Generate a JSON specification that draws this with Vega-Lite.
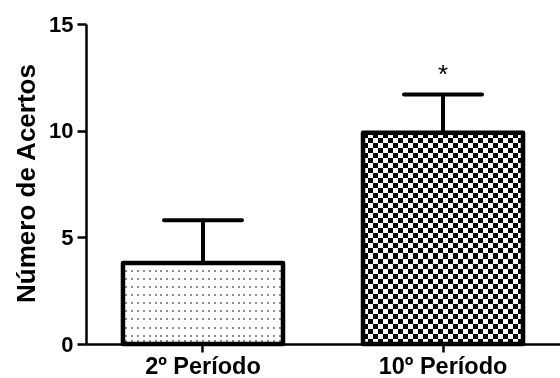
{
  "$schema": "https://vega.github.io/schema/vega-lite/v6.json",
  "autosize": {"type": "none"},
  "padding": {"left": 86, "top": 24, "right": 0, "bottom": 34},
  "width": 474,
  "height": 320,
  "background": "white",
  "config": {
    "font": "Liberation Sans",
    "view": {"stroke": null},
    "axis": {
      "domainColor": "black", "domainWidth": 2.5,
      "tickColor": "black", "tickWidth": 2.5,
      "labelColor": "black", "labelFont": "Liberation Sans", "labelFontWeight": "bold",
      "titleColor": "black", "titleFont": "Liberation Sans", "titleFontWeight": "bold",
      "grid": false
    }
  },
  "data": {
    "values": [
      {"grupo": "2º Período", "media": 3.8, "sup": 5.8, "sig": ""},
      {"grupo": "10º Período", "media": 9.9, "sup": 11.7, "sig": "*"}
    ]
  },
  "encoding": {
    "x": {
      "field": "grupo", "type": "nominal", "sort": ["2º Período", "10º Período"],
      "scale": {"paddingInner": 0.3333, "paddingOuter": 0.154},
      "axis": {"title": null, "labelAngle": 0, "tickSize": 8, "labelPadding": 2, "labelFontSize": 23.5}
    }
  },
  "layer": [
    {
      "transform": [{"filter": "datum.grupo === '2º Período'"}],
      "mark": {"type": "bar", "fill": {"gradient": "linear", "x1": 0, "y1": 0, "x2": 1, "y2": 0, "stops": [
        {"offset": 0.0122, "color": "white"}, {"offset": 0.0122, "color": "#8c8c8c"}, {"offset": 0.0248, "color": "#8c8c8c"}, {"offset": 0.0248, "color": "white"},
        {"offset": 0.0493, "color": "white"}, {"offset": 0.0493, "color": "#8c8c8c"}, {"offset": 0.0619, "color": "#8c8c8c"}, {"offset": 0.0619, "color": "white"},
        {"offset": 0.0863, "color": "white"}, {"offset": 0.0863, "color": "#8c8c8c"}, {"offset": 0.0989, "color": "#8c8c8c"}, {"offset": 0.0989, "color": "white"},
        {"offset": 0.1233, "color": "white"}, {"offset": 0.1233, "color": "#8c8c8c"}, {"offset": 0.1359, "color": "#8c8c8c"}, {"offset": 0.1359, "color": "white"},
        {"offset": 0.1604, "color": "white"}, {"offset": 0.1604, "color": "#8c8c8c"}, {"offset": 0.1730, "color": "#8c8c8c"}, {"offset": 0.1730, "color": "white"},
        {"offset": 0.1974, "color": "white"}, {"offset": 0.1974, "color": "#8c8c8c"}, {"offset": 0.2100, "color": "#8c8c8c"}, {"offset": 0.2100, "color": "white"},
        {"offset": 0.2344, "color": "white"}, {"offset": 0.2344, "color": "#8c8c8c"}, {"offset": 0.2470, "color": "#8c8c8c"}, {"offset": 0.2470, "color": "white"},
        {"offset": 0.2715, "color": "white"}, {"offset": 0.2715, "color": "#8c8c8c"}, {"offset": 0.2841, "color": "#8c8c8c"}, {"offset": 0.2841, "color": "white"},
        {"offset": 0.3085, "color": "white"}, {"offset": 0.3085, "color": "#8c8c8c"}, {"offset": 0.3211, "color": "#8c8c8c"}, {"offset": 0.3211, "color": "white"},
        {"offset": 0.3456, "color": "white"}, {"offset": 0.3456, "color": "#8c8c8c"}, {"offset": 0.3581, "color": "#8c8c8c"}, {"offset": 0.3581, "color": "white"},
        {"offset": 0.3826, "color": "white"}, {"offset": 0.3826, "color": "#8c8c8c"}, {"offset": 0.3952, "color": "#8c8c8c"}, {"offset": 0.3952, "color": "white"},
        {"offset": 0.4196, "color": "white"}, {"offset": 0.4196, "color": "#8c8c8c"}, {"offset": 0.4322, "color": "#8c8c8c"}, {"offset": 0.4322, "color": "white"},
        {"offset": 0.4567, "color": "white"}, {"offset": 0.4567, "color": "#8c8c8c"}, {"offset": 0.4693, "color": "#8c8c8c"}, {"offset": 0.4693, "color": "white"},
        {"offset": 0.4937, "color": "white"}, {"offset": 0.4937, "color": "#8c8c8c"}, {"offset": 0.5063, "color": "#8c8c8c"}, {"offset": 0.5063, "color": "white"},
        {"offset": 0.5307, "color": "white"}, {"offset": 0.5307, "color": "#8c8c8c"}, {"offset": 0.5433, "color": "#8c8c8c"}, {"offset": 0.5433, "color": "white"},
        {"offset": 0.5678, "color": "white"}, {"offset": 0.5678, "color": "#8c8c8c"}, {"offset": 0.5804, "color": "#8c8c8c"}, {"offset": 0.5804, "color": "white"},
        {"offset": 0.6048, "color": "white"}, {"offset": 0.6048, "color": "#8c8c8c"}, {"offset": 0.6174, "color": "#8c8c8c"}, {"offset": 0.6174, "color": "white"},
        {"offset": 0.6419, "color": "white"}, {"offset": 0.6419, "color": "#8c8c8c"}, {"offset": 0.6544, "color": "#8c8c8c"}, {"offset": 0.6544, "color": "white"},
        {"offset": 0.6789, "color": "white"}, {"offset": 0.6789, "color": "#8c8c8c"}, {"offset": 0.6915, "color": "#8c8c8c"}, {"offset": 0.6915, "color": "white"},
        {"offset": 0.7159, "color": "white"}, {"offset": 0.7159, "color": "#8c8c8c"}, {"offset": 0.7285, "color": "#8c8c8c"}, {"offset": 0.7285, "color": "white"},
        {"offset": 0.7530, "color": "white"}, {"offset": 0.7530, "color": "#8c8c8c"}, {"offset": 0.7656, "color": "#8c8c8c"}, {"offset": 0.7656, "color": "white"},
        {"offset": 0.7900, "color": "white"}, {"offset": 0.7900, "color": "#8c8c8c"}, {"offset": 0.8026, "color": "#8c8c8c"}, {"offset": 0.8026, "color": "white"},
        {"offset": 0.8270, "color": "white"}, {"offset": 0.8270, "color": "#8c8c8c"}, {"offset": 0.8396, "color": "#8c8c8c"}, {"offset": 0.8396, "color": "white"},
        {"offset": 0.8641, "color": "white"}, {"offset": 0.8641, "color": "#8c8c8c"}, {"offset": 0.8767, "color": "#8c8c8c"}, {"offset": 0.8767, "color": "white"},
        {"offset": 0.9011, "color": "white"}, {"offset": 0.9011, "color": "#8c8c8c"}, {"offset": 0.9137, "color": "#8c8c8c"}, {"offset": 0.9137, "color": "white"},
        {"offset": 0.9381, "color": "white"}, {"offset": 0.9381, "color": "#8c8c8c"}, {"offset": 0.9507, "color": "#8c8c8c"}, {"offset": 0.9507, "color": "white"},
        {"offset": 0.9752, "color": "white"}, {"offset": 0.9752, "color": "#8c8c8c"}, {"offset": 0.9878, "color": "#8c8c8c"}, {"offset": 0.9878, "color": "white"}
      ]}},
      "encoding": {"y": {"field": "media", "type": "quantitative", "scale": {"domain": [0, 15], "nice": false},
        "axis": {"values": [0, 5, 10, 15], "tickSize": 9, "labelPadding": 4, "labelFontSize": 22,
          "title": "Número de Acertos", "titleFontSize": 26, "titleX": -52, "titleY": 159, "titleBaseline": "alphabetic", "titleAlign": "center", "titleAngle": 270}}}
    },
    {
      "transform": [{"filter": "datum.grupo === '2º Período'"}],
      "mark": {"type": "bar", "blend": "lighten", "fill": {"gradient": "linear", "x1": 0, "y1": 0, "x2": 0, "y2": 1, "stops": [
        {"offset": 0.085, "color": "white"}, {"offset": 0.085, "color": "#8c8c8c"}, {"offset": 0.11, "color": "#8c8c8c"}, {"offset": 0.11, "color": "white"},
        {"offset": 0.185, "color": "white"}, {"offset": 0.185, "color": "#8c8c8c"}, {"offset": 0.21, "color": "#8c8c8c"}, {"offset": 0.21, "color": "white"},
        {"offset": 0.285, "color": "white"}, {"offset": 0.285, "color": "#8c8c8c"}, {"offset": 0.31, "color": "#8c8c8c"}, {"offset": 0.31, "color": "white"},
        {"offset": 0.385, "color": "white"}, {"offset": 0.385, "color": "#8c8c8c"}, {"offset": 0.41, "color": "#8c8c8c"}, {"offset": 0.41, "color": "white"},
        {"offset": 0.485, "color": "white"}, {"offset": 0.485, "color": "#8c8c8c"}, {"offset": 0.51, "color": "#8c8c8c"}, {"offset": 0.51, "color": "white"},
        {"offset": 0.585, "color": "white"}, {"offset": 0.585, "color": "#8c8c8c"}, {"offset": 0.61, "color": "#8c8c8c"}, {"offset": 0.61, "color": "white"},
        {"offset": 0.685, "color": "white"}, {"offset": 0.685, "color": "#8c8c8c"}, {"offset": 0.71, "color": "#8c8c8c"}, {"offset": 0.71, "color": "white"},
        {"offset": 0.785, "color": "white"}, {"offset": 0.785, "color": "#8c8c8c"}, {"offset": 0.81, "color": "#8c8c8c"}, {"offset": 0.81, "color": "white"},
        {"offset": 0.885, "color": "white"}, {"offset": 0.885, "color": "#8c8c8c"}, {"offset": 0.91, "color": "#8c8c8c"}, {"offset": 0.91, "color": "white"},
        {"offset": 0.955, "color": "white"}, {"offset": 0.955, "color": "#8c8c8c"}, {"offset": 0.98, "color": "#8c8c8c"}, {"offset": 0.98, "color": "white"}
      ]}},
      "encoding": {"y": {"field": "media", "type": "quantitative"}}
    },
    {
      "transform": [{"filter": "datum.grupo === '10º Período'"}],
      "mark": {"type": "bar", "fill": {"gradient": "linear", "x1": 0, "y1": 0, "x2": 1, "y2": 0, "stops": [
        {"offset": 0, "color": "white"}, {"offset": 0.03125, "color": "white"}, {"offset": 0.03125, "color": "black"}, {"offset": 0.0625, "color": "black"},
        {"offset": 0.0625, "color": "white"}, {"offset": 0.09375, "color": "white"}, {"offset": 0.09375, "color": "black"}, {"offset": 0.125, "color": "black"},
        {"offset": 0.125, "color": "white"}, {"offset": 0.15625, "color": "white"}, {"offset": 0.15625, "color": "black"}, {"offset": 0.1875, "color": "black"},
        {"offset": 0.1875, "color": "white"}, {"offset": 0.21875, "color": "white"}, {"offset": 0.21875, "color": "black"}, {"offset": 0.25, "color": "black"},
        {"offset": 0.25, "color": "white"}, {"offset": 0.28125, "color": "white"}, {"offset": 0.28125, "color": "black"}, {"offset": 0.3125, "color": "black"},
        {"offset": 0.3125, "color": "white"}, {"offset": 0.34375, "color": "white"}, {"offset": 0.34375, "color": "black"}, {"offset": 0.375, "color": "black"},
        {"offset": 0.375, "color": "white"}, {"offset": 0.40625, "color": "white"}, {"offset": 0.40625, "color": "black"}, {"offset": 0.4375, "color": "black"},
        {"offset": 0.4375, "color": "white"}, {"offset": 0.46875, "color": "white"}, {"offset": 0.46875, "color": "black"}, {"offset": 0.5, "color": "black"},
        {"offset": 0.5, "color": "white"}, {"offset": 0.53125, "color": "white"}, {"offset": 0.53125, "color": "black"}, {"offset": 0.5625, "color": "black"},
        {"offset": 0.5625, "color": "white"}, {"offset": 0.59375, "color": "white"}, {"offset": 0.59375, "color": "black"}, {"offset": 0.625, "color": "black"},
        {"offset": 0.625, "color": "white"}, {"offset": 0.65625, "color": "white"}, {"offset": 0.65625, "color": "black"}, {"offset": 0.6875, "color": "black"},
        {"offset": 0.6875, "color": "white"}, {"offset": 0.71875, "color": "white"}, {"offset": 0.71875, "color": "black"}, {"offset": 0.75, "color": "black"},
        {"offset": 0.75, "color": "white"}, {"offset": 0.78125, "color": "white"}, {"offset": 0.78125, "color": "black"}, {"offset": 0.8125, "color": "black"},
        {"offset": 0.8125, "color": "white"}, {"offset": 0.84375, "color": "white"}, {"offset": 0.84375, "color": "black"}, {"offset": 0.875, "color": "black"},
        {"offset": 0.875, "color": "white"}, {"offset": 0.90625, "color": "white"}, {"offset": 0.90625, "color": "black"}, {"offset": 0.9375, "color": "black"},
        {"offset": 0.9375, "color": "white"}, {"offset": 0.96875, "color": "white"}, {"offset": 0.96875, "color": "black"}, {"offset": 1, "color": "black"}
      ]}},
      "encoding": {"y": {"field": "media", "type": "quantitative"}}
    },
    {
      "transform": [{"filter": "datum.grupo === '10º Período'"}],
      "mark": {"type": "bar", "blend": "difference", "fill": {"gradient": "linear", "x1": 0, "y1": 0, "x2": 0, "y2": 1, "stops": [
        {"offset": 0, "color": "white"}, {"offset": 0.0238, "color": "white"}, {"offset": 0.0238, "color": "black"}, {"offset": 0.0476, "color": "black"},
        {"offset": 0.0476, "color": "white"}, {"offset": 0.0714, "color": "white"}, {"offset": 0.0714, "color": "black"}, {"offset": 0.0952, "color": "black"},
        {"offset": 0.0952, "color": "white"}, {"offset": 0.1190, "color": "white"}, {"offset": 0.1190, "color": "black"}, {"offset": 0.1429, "color": "black"},
        {"offset": 0.1429, "color": "white"}, {"offset": 0.1667, "color": "white"}, {"offset": 0.1667, "color": "black"}, {"offset": 0.1905, "color": "black"},
        {"offset": 0.1905, "color": "white"}, {"offset": 0.2143, "color": "white"}, {"offset": 0.2143, "color": "black"}, {"offset": 0.2381, "color": "black"},
        {"offset": 0.2381, "color": "white"}, {"offset": 0.2619, "color": "white"}, {"offset": 0.2619, "color": "black"}, {"offset": 0.2857, "color": "black"},
        {"offset": 0.2857, "color": "white"}, {"offset": 0.3095, "color": "white"}, {"offset": 0.3095, "color": "black"}, {"offset": 0.3333, "color": "black"},
        {"offset": 0.3333, "color": "white"}, {"offset": 0.3571, "color": "white"}, {"offset": 0.3571, "color": "black"}, {"offset": 0.3810, "color": "black"},
        {"offset": 0.3810, "color": "white"}, {"offset": 0.4048, "color": "white"}, {"offset": 0.4048, "color": "black"}, {"offset": 0.4286, "color": "black"},
        {"offset": 0.4286, "color": "white"}, {"offset": 0.4524, "color": "white"}, {"offset": 0.4524, "color": "black"}, {"offset": 0.4762, "color": "black"},
        {"offset": 0.4762, "color": "white"}, {"offset": 0.5, "color": "white"}, {"offset": 0.5, "color": "black"}, {"offset": 0.5238, "color": "black"},
        {"offset": 0.5238, "color": "white"}, {"offset": 0.5476, "color": "white"}, {"offset": 0.5476, "color": "black"}, {"offset": 0.5714, "color": "black"},
        {"offset": 0.5714, "color": "white"}, {"offset": 0.5952, "color": "white"}, {"offset": 0.5952, "color": "black"}, {"offset": 0.6190, "color": "black"},
        {"offset": 0.6190, "color": "white"}, {"offset": 0.6429, "color": "white"}, {"offset": 0.6429, "color": "black"}, {"offset": 0.6667, "color": "black"},
        {"offset": 0.6667, "color": "white"}, {"offset": 0.6905, "color": "white"}, {"offset": 0.6905, "color": "black"}, {"offset": 0.7143, "color": "black"},
        {"offset": 0.7143, "color": "white"}, {"offset": 0.7381, "color": "white"}, {"offset": 0.7381, "color": "black"}, {"offset": 0.7619, "color": "black"},
        {"offset": 0.7619, "color": "white"}, {"offset": 0.7857, "color": "white"}, {"offset": 0.7857, "color": "black"}, {"offset": 0.8095, "color": "black"},
        {"offset": 0.8095, "color": "white"}, {"offset": 0.8333, "color": "white"}, {"offset": 0.8333, "color": "black"}, {"offset": 0.8571, "color": "black"},
        {"offset": 0.8571, "color": "white"}, {"offset": 0.8810, "color": "white"}, {"offset": 0.8810, "color": "black"}, {"offset": 0.9048, "color": "black"},
        {"offset": 0.9048, "color": "white"}, {"offset": 0.9286, "color": "white"}, {"offset": 0.9286, "color": "black"}, {"offset": 0.9524, "color": "black"},
        {"offset": 0.9524, "color": "white"}, {"offset": 0.9762, "color": "white"}, {"offset": 0.9762, "color": "black"}, {"offset": 1, "color": "black"}
      ]}},
      "encoding": {"y": {"field": "media", "type": "quantitative"}}
    },
    {
      "mark": {"type": "bar", "fill": "white", "fillOpacity": 0, "stroke": "black", "strokeWidth": 4.5, "strokeJoin": "round"},
      "encoding": {"y": {"field": "media", "type": "quantitative"}}
    },
    {
      "mark": {"type": "rule", "color": "black", "strokeWidth": 4},
      "encoding": {"y": {"field": "media", "type": "quantitative"}, "y2": {"field": "sup"}}
    },
    {
      "mark": {"type": "tick", "color": "black", "size": 82, "thickness": 4, "cornerRadius": 2, "opacity": 1},
      "encoding": {"y": {"field": "sup", "type": "quantitative"}}
    },
    {
      "mark": {"type": "text", "color": "black", "fontSize": 26, "baseline": "middle", "dy": -19},
      "encoding": {"y": {"field": "sup", "type": "quantitative"}, "text": {"field": "sig"}}
    }
  ]
}
